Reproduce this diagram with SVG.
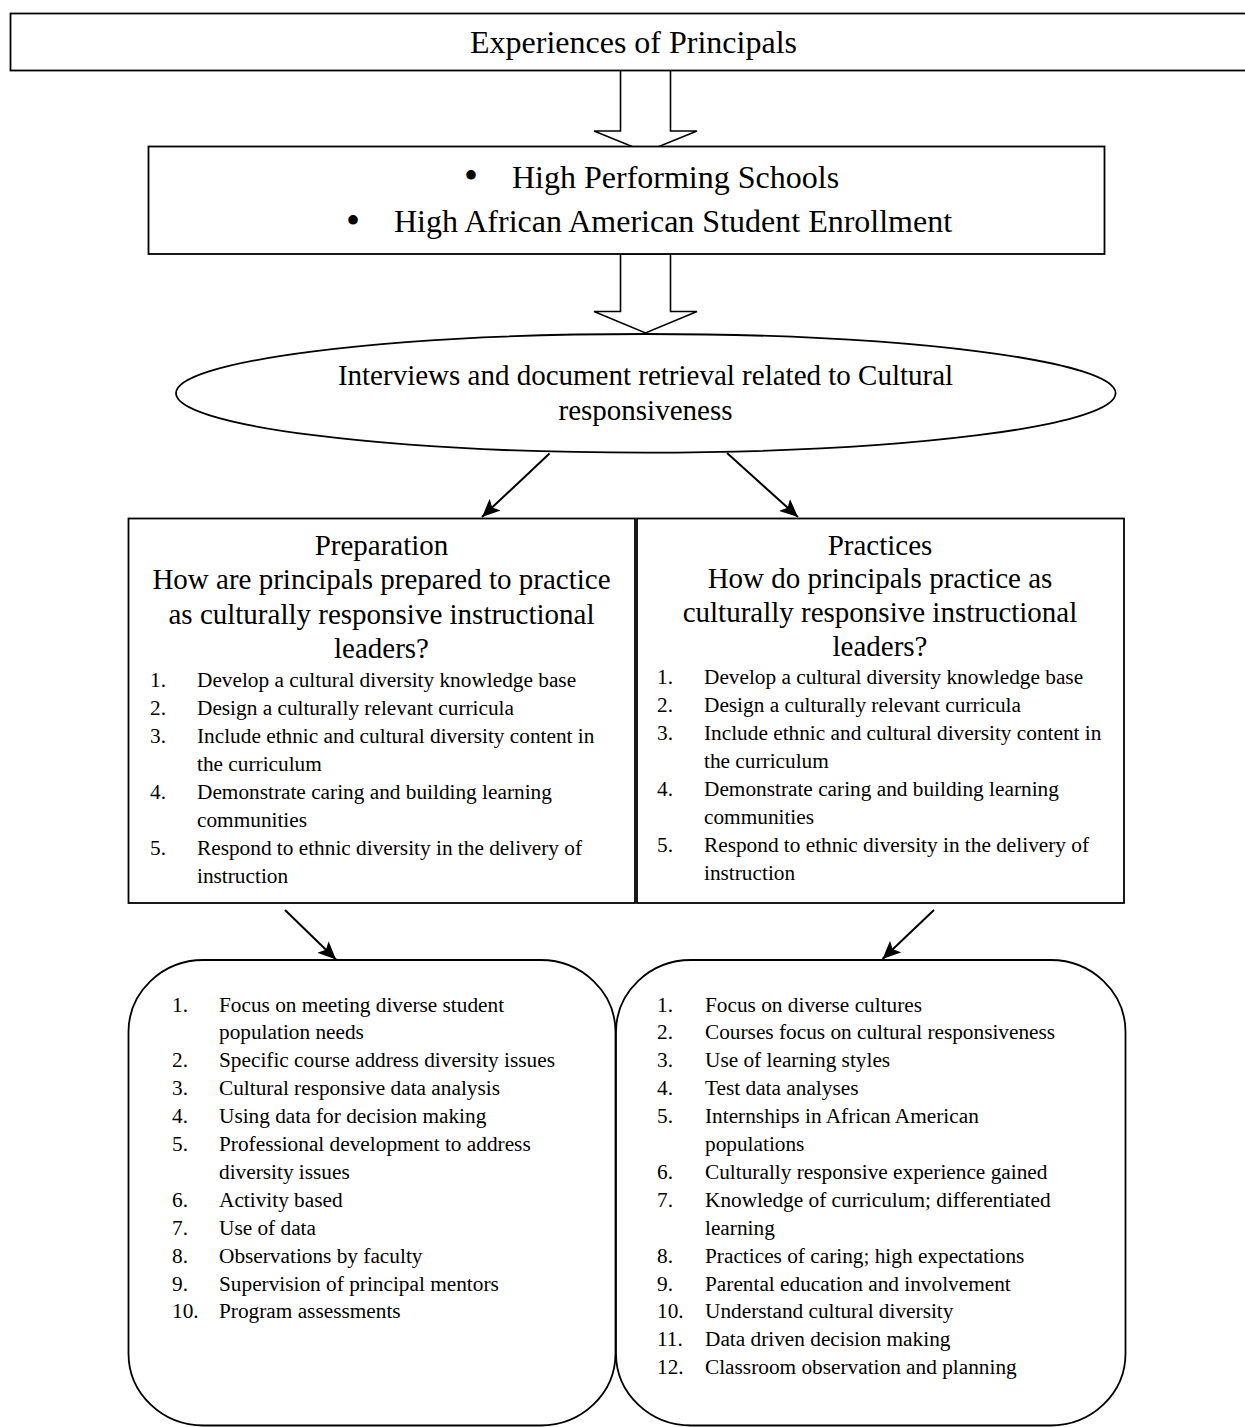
<svg xmlns="http://www.w3.org/2000/svg" width="1245" height="1427" viewBox="0 0 1245 1427">
<defs>
<style>
text { font-family: "Liberation Serif", "Times New Roman", serif; fill: #000; }
.big { font-size: 32px; }
.bul { font-size: 40px; }
.mid { font-size: 29px; }
.li { font-size: 21.3px; }
.box { fill: #fff; stroke: #000; stroke-width: 1.8; }
.conn { fill: none; stroke: #000; stroke-width: 2; }
.block { fill: #fff; stroke: #000; stroke-width: 1.6; stroke-linejoin: miter; }
</style>
<marker id="ah" markerUnits="userSpaceOnUse" markerWidth="20" markerHeight="16" refX="18" refY="8" orient="auto">
<path d="M0,0 L18,8 L0,16 L4,8 Z" fill="#000"/>
</marker>
</defs>
<rect x="0" y="0" width="1245" height="1427" fill="#fff"/>

<g id="connectors">
<polygon class="block" points="620.5,70 620.5,131 594,131 645.5,152 697,131 670.5,131 670.5,70"/>
<polygon class="block" points="620.5,254 620.5,311.5 594,311.5 645.5,333 697,311.5 670.5,311.5 670.5,254"/>
<line class="conn" x1="549.5" y1="453.5" x2="482" y2="517" marker-end="url(#ah)"/>
<line class="conn" x1="727" y1="453" x2="798" y2="517" marker-end="url(#ah)"/>
<line class="conn" x1="285" y1="910" x2="336" y2="959.5" marker-end="url(#ah)"/>
<line class="conn" x1="934" y1="910" x2="882.5" y2="959" marker-end="url(#ah)"/>
</g>

<g id="experiences">
<rect class="box" x="10.5" y="13.5" width="1250" height="57"/>
<text class="big" x="470" y="52.5">Experiences of Principals</text>
</g>

<g id="schools">
<rect class="box" x="148.5" y="146.5" width="956" height="107.5"/>
<text class="bul" x="471" y="189" text-anchor="middle">•</text>
<text class="big" x="512" y="187.5">High Performing Schools</text>
<text class="bul" x="353" y="233.5" text-anchor="middle">•</text>
<text class="big" x="394" y="232">High African American Student Enrollment</text>
</g>

<g id="interviews">
<ellipse class="box" cx="645.8" cy="393.3" rx="469.8" ry="59.3"/>
<text class="mid" x="645.5" y="385" text-anchor="middle">Interviews and document retrieval related to Cultural</text>
<text class="mid" x="645.5" y="419.5" text-anchor="middle">responsiveness</text>
</g>

<g id="preparation">
<rect class="box" x="128.5" y="518.5" width="506.5" height="384.5"/>
<text class="mid" x="381.5" y="554.5" text-anchor="middle">Preparation</text>
<text class="mid" x="381.5" y="589" text-anchor="middle">How are principals prepared to practice</text>
<text class="mid" x="381.5" y="623.5" text-anchor="middle">as culturally responsive instructional</text>
<text class="mid" x="381.5" y="658" text-anchor="middle">leaders?</text>
<g class="li">
<text x="150" y="687">1.</text><text x="197" y="687">Develop a cultural diversity knowledge base</text>
<text x="150" y="715">2.</text><text x="197" y="715">Design a culturally relevant curricula</text>
<text x="150" y="743">3.</text><text x="197" y="743">Include ethnic and cultural diversity content in</text>
<text x="197" y="771">the curriculum</text>
<text x="150" y="799">4.</text><text x="197" y="799">Demonstrate caring and building learning</text>
<text x="197" y="827">communities</text>
<text x="150" y="855">5.</text><text x="197" y="855">Respond to ethnic diversity in the delivery of</text>
<text x="197" y="883">instruction</text>
</g>
</g>

<g id="practices">
<rect class="box" x="637" y="518.5" width="487" height="384.5"/>
<text class="mid" x="880" y="554.5" text-anchor="middle">Practices</text>
<text class="mid" x="880" y="588" text-anchor="middle">How do principals practice as</text>
<text class="mid" x="880" y="622" text-anchor="middle">culturally responsive instructional</text>
<text class="mid" x="880" y="656" text-anchor="middle">leaders?</text>
<g class="li">
<text x="657" y="684">1.</text><text x="704" y="684">Develop a cultural diversity knowledge base</text>
<text x="657" y="712">2.</text><text x="704" y="712">Design a culturally relevant curricula</text>
<text x="657" y="740">3.</text><text x="704" y="740">Include ethnic and cultural diversity content in</text>
<text x="704" y="768">the curriculum</text>
<text x="657" y="796">4.</text><text x="704" y="796">Demonstrate caring and building learning</text>
<text x="704" y="824">communities</text>
<text x="657" y="852">5.</text><text x="704" y="852">Respond to ethnic diversity in the delivery of</text>
<text x="704" y="880">instruction</text>
</g>
</g>

<g id="preparation-findings">
<rect class="box" x="128.5" y="960" width="487" height="465.5" rx="75" ry="72"/>
<g class="li">
<text x="172" y="1011.5">1.</text><text x="219" y="1011.5">Focus on meeting diverse student</text>
<text x="219" y="1039.4">population needs</text>
<text x="172" y="1067.3">2.</text><text x="219" y="1067.3">Specific course address diversity issues</text>
<text x="172" y="1095.2">3.</text><text x="219" y="1095.2">Cultural responsive data analysis</text>
<text x="172" y="1123.1">4.</text><text x="219" y="1123.1">Using data for decision making</text>
<text x="172" y="1151">5.</text><text x="219" y="1151">Professional development to address</text>
<text x="219" y="1178.9">diversity issues</text>
<text x="172" y="1206.8">6.</text><text x="219" y="1206.8">Activity based</text>
<text x="172" y="1234.7">7.</text><text x="219" y="1234.7">Use of data</text>
<text x="172" y="1262.6">8.</text><text x="219" y="1262.6">Observations by faculty</text>
<text x="172" y="1290.5">9.</text><text x="219" y="1290.5">Supervision of principal mentors</text>
<text x="172" y="1318.4">10.</text><text x="219" y="1318.4">Program assessments</text>
</g>
</g>

<g id="practices-findings">
<rect class="box" x="616" y="960" width="509.5" height="465.5" rx="75" ry="72"/>
<g class="li">
<text x="657" y="1011.5">1.</text><text x="705" y="1011.5">Focus on diverse cultures</text>
<text x="657" y="1039.4">2.</text><text x="705" y="1039.4">Courses focus on cultural responsiveness</text>
<text x="657" y="1067.3">3.</text><text x="705" y="1067.3">Use of learning styles</text>
<text x="657" y="1095.2">4.</text><text x="705" y="1095.2">Test data analyses</text>
<text x="657" y="1123.1">5.</text><text x="705" y="1123.1">Internships in African American</text>
<text x="705" y="1151">populations</text>
<text x="657" y="1178.9">6.</text><text x="705" y="1178.9">Culturally responsive experience gained</text>
<text x="657" y="1206.8">7.</text><text x="705" y="1206.8">Knowledge of curriculum; differentiated</text>
<text x="705" y="1234.7">learning</text>
<text x="657" y="1262.6">8.</text><text x="705" y="1262.6">Practices of caring; high expectations</text>
<text x="657" y="1290.5">9.</text><text x="705" y="1290.5">Parental education and involvement</text>
<text x="657" y="1318.4">10.</text><text x="705" y="1318.4">Understand cultural diversity</text>
<text x="657" y="1346.3">11.</text><text x="705" y="1346.3">Data driven decision making</text>
<text x="657" y="1374.2">12.</text><text x="705" y="1374.2">Classroom observation and planning</text>
</g>
</g>
</svg>
